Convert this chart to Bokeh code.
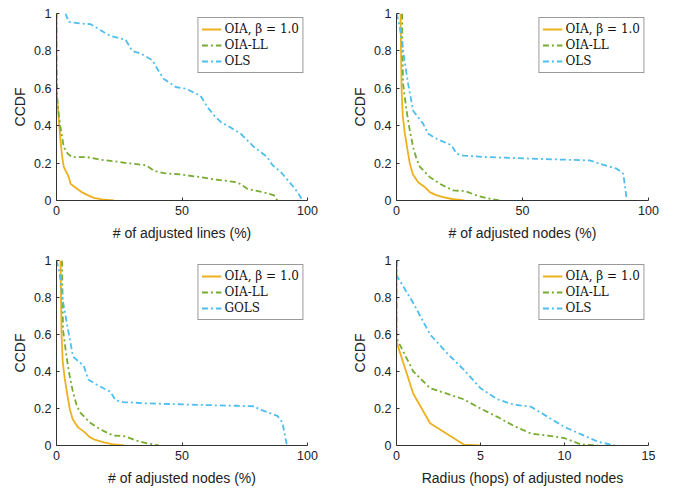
from bokeh.plotting import figure
from bokeh.layouts import column, row
from bokeh.models import Legend, LegendItem, FixedTicker, CustomJSTickFormatter, Range1d
from bokeh.embed import file_html
from bokeh.resources import INLINE

# ---- data: (a) adjusted lines ----
lines_oia_x = [0, 0, 0.5, 1.0, 1.6, 2.2, 2.9, 3.6, 4.3, 5.0, 5.6, 6.5, 8.2, 10, 12.2, 14.9, 18, 22.9]
lines_oia_y = [1.0, 0.6, 0.5, 0.42, 0.32, 0.24, 0.18, 0.16, 0.143, 0.12, 0.089, 0.08, 0.0625, 0.045, 0.03, 0.014, 0.006, 0.0]
lines_ll_x = [0, 0, 0.3, 1.0, 1.6, 2.9, 4.5, 6.2, 12.2, 17.5, 23.5, 28, 34.8, 36, 38.8, 42.8, 49.5, 57.4, 62.8, 70.7, 73, 76, 84, 86.7, 88]
lines_ll_y = [1.0, 0.75, 0.54, 0.45, 0.39, 0.286, 0.25, 0.232, 0.232, 0.218, 0.209, 0.2, 0.19, 0.185, 0.16, 0.146, 0.139, 0.125, 0.1125, 0.1, 0.09, 0.0625, 0.039, 0.027, 0.0]
lines_ols_x = [3.6, 4.9, 9.6, 13.6, 17.6, 21.5, 27.5, 30.2, 33.5, 38.2, 40.8, 42.8, 47.5, 51.5, 57.4, 60.1, 62.8, 65.4, 69.4, 73.4, 78.7, 84, 86, 89.4, 93.4, 96, 98]
lines_ols_y = [1.0, 0.955, 0.946, 0.943, 0.91, 0.88, 0.86, 0.80, 0.786, 0.75, 0.69, 0.65, 0.607, 0.598, 0.56, 0.50, 0.455, 0.42, 0.39, 0.357, 0.286, 0.232, 0.19, 0.152, 0.089, 0.045, 0.0]

# ---- data: (b) adjusted nodes ----
nodes_oia_x = [1.6, 2.0, 2.5, 3.3, 4.5, 5.3, 6.5, 8.6, 11.3, 13.2, 15.5, 18.5, 22, 27]
nodes_oia_y = [1.0, 0.6, 0.45, 0.36, 0.26, 0.196, 0.14, 0.098, 0.071, 0.045, 0.03, 0.018, 0.008, 0.0]
nodes_ll_x = [2.2, 2.6, 4.0, 5.2, 6.6, 8.0, 9.3, 13.2, 17.2, 22.5, 27.2, 31.8, 36, 41]
nodes_ll_y = [1.0, 0.625, 0.48, 0.38, 0.286, 0.22, 0.18, 0.125, 0.089, 0.054, 0.05, 0.027, 0.012, 0.0]
nodes_ols_x = [0, 1.3, 2.6, 4.6, 6.6, 10.6, 12.6, 15.9, 21.9, 23.8, 26.5, 35.8, 55.6, 76.8, 80.8, 87.4, 90, 91.4]
nodes_ols_y = [1.0, 0.93, 0.80, 0.625, 0.48, 0.41, 0.357, 0.33, 0.295, 0.25, 0.24, 0.232, 0.223, 0.214, 0.196, 0.17, 0.143, 0.0]

# ---- data: (c) adjusted nodes, GOLS ----
gnodes_oia_x = [1.6, 2.0, 2.5, 3.3, 4.5, 5.3, 6.5, 8.6, 11.3, 13.2, 15.5, 18.5, 22, 27]
gnodes_oia_y = [1.0, 0.6, 0.45, 0.36, 0.26, 0.196, 0.14, 0.098, 0.071, 0.045, 0.03, 0.018, 0.008, 0.0]
gnodes_ll_x = [2.2, 2.6, 4.0, 5.2, 6.6, 8.0, 9.3, 13.2, 17.2, 22.5, 27.2, 31.8, 36, 40.8]
gnodes_ll_y = [1.0, 0.625, 0.48, 0.38, 0.286, 0.22, 0.18, 0.125, 0.089, 0.054, 0.05, 0.027, 0.012, 0.0]
gnodes_gols_x = [0, 1.3, 2.3, 4.6, 6.6, 10.9, 12.6, 15.9, 21.5, 23.5, 26.5, 35.8, 55.6, 78.7, 80.8, 88, 90, 91.8]
gnodes_gols_y = [1.0, 0.93, 0.80, 0.625, 0.48, 0.43, 0.357, 0.33, 0.29, 0.245, 0.235, 0.228, 0.22, 0.212, 0.196, 0.16, 0.125, 0.0]

# ---- data: (d) radius ----
radius_oia_x = [0, 0, 1, 2, 4, 5]
radius_oia_y = [1.0, 0.56, 0.28, 0.12, 0.005, 0.0]
radius_ll_x = [0, 0, 1, 2, 3, 4, 5, 6, 7, 8, 9, 10, 11, 12]
radius_ll_y = [1.0, 0.58, 0.4, 0.31, 0.28, 0.25, 0.2, 0.155, 0.105, 0.065, 0.053, 0.04, 0.005, 0.0]
radius_ols_x = [0, 0, 1, 2, 3, 4, 5, 6, 7, 8, 9, 10, 11, 12, 13]
radius_ols_y = [1.0, 0.92, 0.77, 0.6, 0.5, 0.41, 0.31, 0.25, 0.22, 0.21, 0.155, 0.1, 0.06, 0.02, 0.0]

y_ticks = [0, 0.2, 0.4, 0.6, 0.8, 1]
x_ticks_pct = [0, 50, 100]
x_ticks_hops = [0, 5, 10, 15]

ORANGE = "#EDB120"
GREEN = "#77AC30"
BLUE = "#4DBEEE"
AXC = "#333333"
DASHDOT = "6 3 2 3"


def make_fig(series, labels, xlabel, xmax, xticks, w, h, bl, br, bt, bb):
    p = figure(width=w, height=h, output_backend="svg", toolbar_location=None,
               x_range=Range1d(0, xmax), y_range=Range1d(0, 1),
               min_border_left=bl, min_border_right=br, min_border_top=bt, min_border_bottom=bb)
    p.outline_line_color = None
    p.grid.visible = False
    p.background_fill_color = "white"
    p.border_fill_color = "white"
    styles = [(ORANGE, "solid"), (GREEN, DASHDOT), (BLUE, DASHDOT)]
    items = []
    for (xs, ys), (c, d), lab in zip(series, styles, labels):
        r = p.line(xs, ys, line_color=c, line_dash=d, line_width=1.8)
        items.append(LegendItem(label=lab, renderers=[r]))
    leg = Legend(items=items, location="top_right", margin=4, padding=3, spacing=0,
                 label_text_font="DejaVu Serif", label_text_font_size="12px",
                 label_text_color="#111111", label_standoff=3, label_height=16,
                 glyph_width=20, glyph_height=16,
                 border_line_color=AXC, border_line_width=1, background_fill_alpha=1)
    p.add_layout(leg)
    for ax in (p.xaxis[0], p.yaxis[0]):
        ax.axis_line_color = AXC
        ax.major_tick_line_color = AXC
        ax.major_tick_in = 3
        ax.major_tick_out = 0
        ax.minor_tick_line_color = None
        ax.major_label_text_font = "Liberation Sans"
        ax.major_label_text_font_size = "12.5px"
        ax.major_label_text_color = "#222222"
        ax.axis_label_text_font = "Liberation Sans"
        ax.axis_label_text_font_size = "14px"
        ax.axis_label_text_font_style = "normal"
        ax.axis_label_text_color = "#222222"
    p.xaxis.ticker = FixedTicker(ticks=xticks)
    p.yaxis.ticker = FixedTicker(ticks=y_ticks)
    p.yaxis.formatter = CustomJSTickFormatter(code="return String(Math.round(tick*10)/10);")
    p.xaxis.axis_label = xlabel
    p.yaxis.axis_label = "CCDF"
    p.xaxis.major_label_standoff = 5
    p.xaxis.axis_label_standoff = 7
    p.yaxis.major_label_standoff = 5
    p.yaxis.axis_label_standoff = 3
    return p


beta_lab = "OIA, \u03b2 = 1.0"
p1 = make_fig([(lines_oia_x, lines_oia_y), (lines_ll_x, lines_ll_y), (lines_ols_x, lines_ols_y)],
              [beta_lab, "OIA-LL", "OLS"], "# of adjusted lines (%)", 100, x_ticks_pct,
              348, 255, 56, 41, 13, 55)
p2 = make_fig([(nodes_oia_x, nodes_oia_y), (nodes_ll_x, nodes_ll_y), (nodes_ols_x, nodes_ols_y)],
              [beta_lab, "OIA-LL", "OLS"], "# of adjusted nodes (%)", 100, x_ticks_pct,
              317, 255, 48, 17, 13, 55)
p3 = make_fig([(gnodes_oia_x, gnodes_oia_y), (gnodes_ll_x, gnodes_ll_y), (gnodes_gols_x, gnodes_gols_y)],
              [beta_lab, "OIA-LL", "GOLS"], "# of adjusted nodes (%)", 100, x_ticks_pct,
              348, 233, 56, 41, 5, 42)
p4 = make_fig([(radius_oia_x, radius_oia_y), (radius_ll_x, radius_ll_y), (radius_ols_x, radius_ols_y)],
              [beta_lab, "OIA-LL", "OLS"], "Radius (hops) of adjusted nodes", 15, x_ticks_hops,
              317, 233, 48, 17, 5, 42)

layout = column(row(p1, p2), row(p3, p4))
open("out.html", "w").write(file_html(layout, INLINE))
